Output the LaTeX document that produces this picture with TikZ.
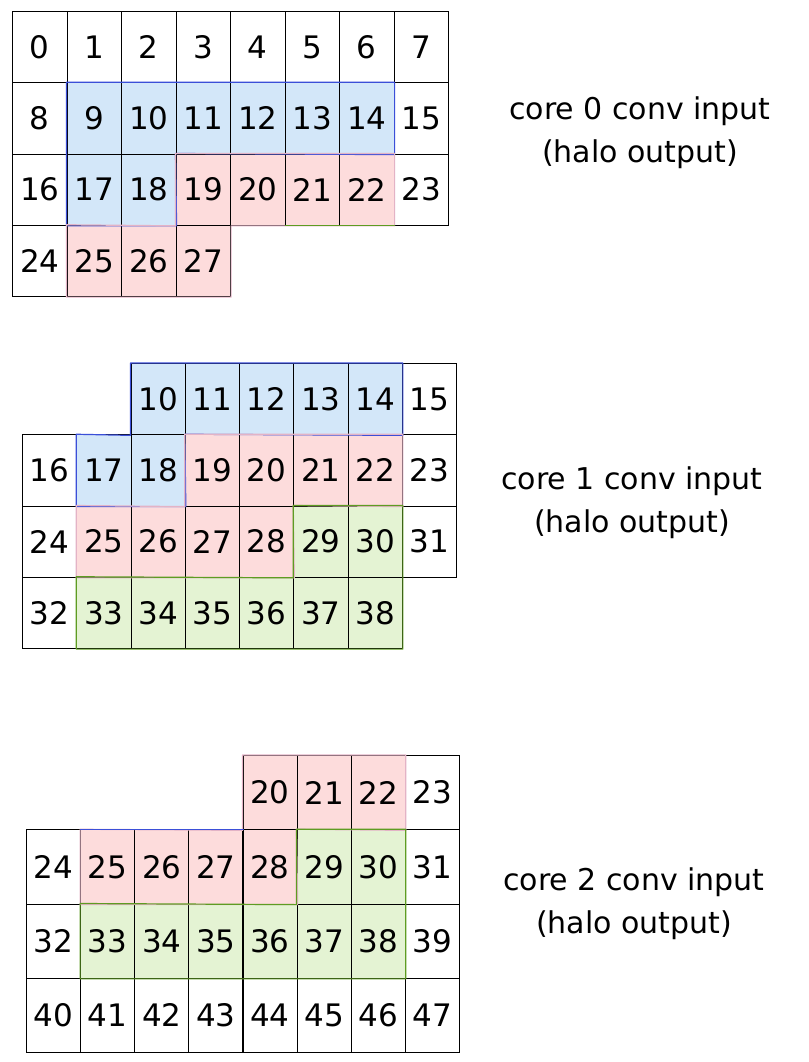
\documentclass[tikz,border=0pt]{standalone}
\usepackage{fontspec}
\setmainfont{DejaVu Sans}
\definecolor{bluefill}{HTML}{D3E7F9}
\definecolor{blueline}{HTML}{3B4FD8}
\definecolor{pinkfill}{HTML}{FDDCDC}
\definecolor{pinkline}{HTML}{E3B3C6}
\definecolor{greenfill}{HTML}{E4F3D3}
\definecolor{greenline}{HTML}{5E9C22}
\tikzset{
  cell/.style={draw=black, line width=1.1pt, anchor=north west, inner sep=0pt,
    font=\fontsize{31}{31}\selectfont},
  region/.style={line width=1.2pt, line join=round},
  lbl/.style={align=center, font=\fontsize{30}{43}\selectfont}
}
\begin{document}
\begin{tikzpicture}[x=1pt,y=-1pt]
\useasboundingbox (0,0) rectangle (808,1062);
% ---------- grid 1: core 0 ----------
\def\cw{54.5}\def\ch{71.25}\def\gx{12}\def\gy{11}
\foreach \c/\r/\n/\f in {
 0/0/0/white,1/0/1/white,2/0/2/white,3/0/3/white,4/0/4/white,5/0/5/white,6/0/6/white,7/0/7/white,
 0/1/8/white,1/1/9/bluefill,2/1/10/bluefill,3/1/11/bluefill,4/1/12/bluefill,5/1/13/bluefill,6/1/14/bluefill,7/1/15/white,
 0/2/16/white,1/2/17/bluefill,2/2/18/bluefill,3/2/19/pinkfill,4/2/20/pinkfill,5/2/21/pinkfill,6/2/22/pinkfill,7/2/23/white,
 0/3/24/white,1/3/25/pinkfill,2/3/26/pinkfill,3/3/27/pinkfill}
 \node[cell, fill=\f, minimum width=\cw pt, minimum height=\ch pt] (a\n) at ({\gx+\c*\cw},{\gy+\r*\ch}) {\n};
\draw[region, blueline] (a9.north west) -- (a14.north east) -- (a14.south east) -- (a19.north west)
  -- (a18.south east) -- (a17.south west) -- cycle;
\draw[region, pinkline] (a19.north west) -- (a22.north east) -- (a22.south east) -- (a19.south east)
  -- (a27.south east) -- (a25.south west) -- (a25.north west) -- (a19.south west) -- cycle;
\draw[region, greenline] (a21.south west) -- (a22.south east);
\node[lbl] (l0) at (640,133) {core 0 conv input\\(halo output)};
% ---------- grid 2: core 1 ----------
\def\cw{54.25}\def\ch{71.25}\def\gx{22}\def\gy{363}
\foreach \c/\r/\n/\f in {
 2/0/10/bluefill,3/0/11/bluefill,4/0/12/bluefill,5/0/13/bluefill,6/0/14/bluefill,7/0/15/white,
 0/1/16/white,1/1/17/bluefill,2/1/18/bluefill,3/1/19/pinkfill,4/1/20/pinkfill,5/1/21/pinkfill,6/1/22/pinkfill,7/1/23/white,
 0/2/24/white,1/2/25/pinkfill,2/2/26/pinkfill,3/2/27/pinkfill,4/2/28/pinkfill,5/2/29/greenfill,6/2/30/greenfill,7/2/31/white,
 0/3/32/white,1/3/33/greenfill,2/3/34/greenfill,3/3/35/greenfill,4/3/36/greenfill,5/3/37/greenfill,6/3/38/greenfill}
 \node[cell, fill=\f, minimum width=\cw pt, minimum height=\ch pt] (b\n) at ({\gx+\c*\cw},{\gy+\r*\ch}) {\n};
\draw[region, blueline] (b10.north west) -- (b14.north east) -- (b14.south east) -- (b19.north west)
  -- (b18.south east) -- (b17.south west) -- (b17.north west) -- (b10.south west) -- cycle;
\draw[region, pinkline] (b19.north west) -- (b22.north east) -- (b22.south east) -- (b29.north west)
  -- (b28.south east) -- (b25.south west) -- (b25.north west) -- (b19.south west) -- cycle;
\draw[region, greenline] (b29.north west) -- (b30.north east) -- (b38.south east) -- (b33.south west)
  -- (b33.north west) -- (b29.south west) -- cycle;
\node[lbl] (l1) at (632,503) {core 1 conv input\\(halo output)};
% ---------- grid 3: core 2 ----------
\def\cw{54.1}\def\ch{74.25}\def\gx{26}\def\gy{755}
\foreach \c/\r/\n/\f in {
 4/0/20/pinkfill,5/0/21/pinkfill,6/0/22/pinkfill,7/0/23/white,
 0/1/24/white,1/1/25/pinkfill,2/1/26/pinkfill,3/1/27/pinkfill,4/1/28/pinkfill,5/1/29/greenfill,6/1/30/greenfill,7/1/31/white,
 0/2/32/white,1/2/33/greenfill,2/2/34/greenfill,3/2/35/greenfill,4/2/36/greenfill,5/2/37/greenfill,6/2/38/greenfill,7/2/39/white,
 0/3/40/white,1/3/41/white,2/3/42/white,3/3/43/white,4/3/44/white,5/3/45/white,6/3/46/white,7/3/47/white}
 \node[cell, fill=\f, minimum width=\cw pt, minimum height=\ch pt] (c\n) at ({\gx+\c*\cw},{\gy+\r*\ch}) {\n};
\draw[region, pinkline] (c20.north west) -- (c22.north east) -- (c22.south east) -- (c29.north west)
  -- (c28.south east) -- (c25.south west) -- (c25.north west) -- (c20.south west) -- cycle;
\draw[region, blueline] (c25.north west) -- (c27.north east);
\draw[region, greenline] (c29.north west) -- (c30.north east) -- (c38.south east) -- (c33.south west)
  -- (c33.north west) -- (c29.south west) -- cycle;
\node[lbl] (l2) at (634,904) {core 2 conv input\\(halo output)};
\end{tikzpicture}
\end{document}
